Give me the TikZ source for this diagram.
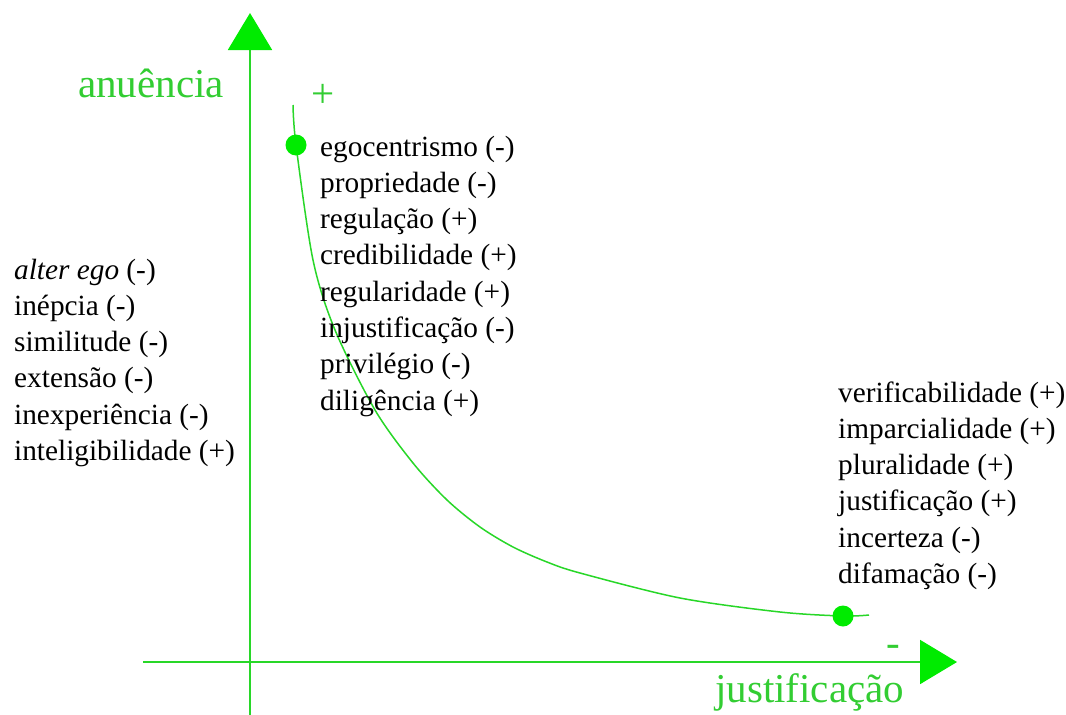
\documentclass[tikz,border=0pt]{standalone}
\usepackage{fontspec}
\setmainfont{Liberation Serif}
\usepackage{xcolor}
\usetikzlibrary{
    arrows.meta,
    positioning
}
\definecolor{verdeeixo}{RGB}{40,215,40}
\definecolor{verdeforte}{RGB}{0,235,0}
\definecolor{verdetexto}{RGB}{50,205,50}
\tikzset{
    eixo/.style={
        draw=verdeeixo,
        line width=2pt,
        -{Triangle[length=37pt,width=44pt,color=verdeforte]}
    },
    curva/.style={
        draw=verdeeixo,
        line width=1.5pt
    },
    ponto/.style={
        circle,
        fill=verdeforte,
        inner sep=0pt,
        minimum size=21pt
    },
    termo/.style={
        anchor=base west,
        inner sep=0pt,
        font=\fontsize{29.3}{36}\selectfont
    },
    rotulo/.style={
        anchor=base west,
        inner sep=0pt,
        text=verdetexto,
        font=\fontsize{41}{48}\selectfont
    },
    sinal/.style={
        anchor=base,
        inner sep=0pt,
        text=verdetexto,
        font=\fontsize{41}{48}\selectfont
    }
}

\begin{document}
\begin{tikzpicture}[x=1pt, y=-1pt]
\useasboundingbox[fill=white] (0,0) rectangle (1066,715);

% eixos
\coordinate (baseY) at (250,715);
\coordinate (topoY) at (250,13);
\coordinate (baseX) at (143,662);
\coordinate (topoX) at (957,662);
\draw[eixo] (baseY) -- (topoY);
\draw[eixo] (baseX) -- (topoX);

\node[rotulo] (anuencia) at (78,97) {anuência};
\node[rotulo] (justif) at (715,702) {justificação};
\node[sinal] (mais) at (323,107) {+};
\node[sinal] (menos) at (893,656) {-};

% curva
\coordinate (ini) at (293,105);
\coordinate (fim) at (869,615);
\draw[curva] plot[smooth] coordinates {(ini) (296,145) (313,260) (335,330)
    (375,410) (413,463) (447,500) (480,527) (513,547) (547,562) (580,573)
    (680,598) (780,612) (843,616) (fim)};
\node[ponto] (alto) at (296,145) {};
\node[ponto] (baixo) at (843,616) {};

% termos
\foreach \t [count=\i] in {{\textit{alter ego} (-)}, inépcia (-), similitude (-),
    extensão (-), inexperiência (-), inteligibilidade (+)}
    \node[termo] (esq\i) at (14,{279+36.3*(\i-1)}) {\t};

\foreach \t [count=\i] in {egocentrismo (-), propriedade (-), regulação (+),
    credibilidade (+), regularidade (+), injustificação (-), privilégio (-),
    diligência (+)}
    \node[termo] (meio\i) at (320,{156+36.3*(\i-1)}) {\t};

\foreach \t [count=\i] in {verificabilidade (+), imparcialidade (+),
    pluralidade (+), justificação (+), incerteza (-), difamação (-)}
    \node[termo] (dir\i) at (838,{402+36.3*(\i-1)}) {\t};

\end{tikzpicture}
\end{document}
